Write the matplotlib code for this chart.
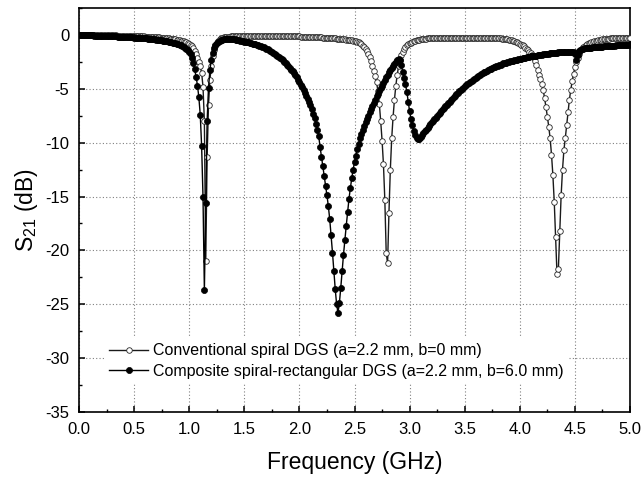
import numpy as np
import matplotlib as mpl
mpl.use("Agg")
import matplotlib.pyplot as plt
from matplotlib.ticker import MultipleLocator, FormatStrFormatter


mpl.rcParams.update({
    "font.family": ["Liberation Sans", "DejaVu Sans"],
    "font.size": 11.5,
    "axes.linewidth": 1.2,
    "xtick.direction": "in",
    "ytick.direction": "in",
    "xtick.major.size": 4.0,
    "ytick.major.size": 4.0,
    "xtick.minor.size": 2.3,
    "ytick.minor.size": 2.3,
    "xtick.major.width": 1.1,
    "ytick.major.width": 1.1,
    "xtick.minor.width": 1.0,
    "ytick.minor.width": 1.0,
})

# frequency sweep, 0-5 GHz, 401 points
f_start, f_stop, n_pts = 0.0, 5.0, 401

# S21 (dB), conventional spiral DGS, one row per 0.1 GHz
s21_conv = [
    0.00, 0.00, 0.00, 0.00, -0.01, -0.01, -0.01, -0.01,
    -0.01, -0.01, -0.02, -0.02, -0.02, -0.02, -0.02, -0.03,
    -0.03, -0.03, -0.03, -0.03, -0.04, -0.04, -0.04, -0.04,
    -0.05, -0.05, -0.05, -0.05, -0.06, -0.06, -0.06, -0.07,
    -0.07, -0.07, -0.08, -0.08, -0.08, -0.09, -0.09, -0.10,
    -0.10, -0.11, -0.11, -0.12, -0.12, -0.13, -0.13, -0.14,
    -0.15, -0.15, -0.16, -0.17, -0.18, -0.18, -0.19, -0.20,
    -0.21, -0.22, -0.23, -0.24, -0.25, -0.26, -0.28, -0.29,
    -0.30, -0.32, -0.34, -0.35, -0.37, -0.39, -0.41, -0.44,
    -0.46, -0.49, -0.52, -0.55, -0.59, -0.63, -0.68, -0.73,
    -0.80, -0.90, -1.05, -1.25, -1.50, -1.80, -2.15, -2.50,
    -2.90, -3.50, -4.80, -8.00, -21.0, -11.3, -6.50, -4.20,
    -2.90, -2.00, -1.40, -1.00, -0.72, -0.52, -0.40, -0.32,
    -0.27, -0.23, -0.20, -0.18, -0.16, -0.15, -0.14, -0.13,
    -0.12, -0.12, -0.11, -0.11, -0.11, -0.10, -0.10, -0.10,
    -0.10, -0.10, -0.10, -0.10, -0.10, -0.10, -0.10, -0.10,
    -0.10, -0.10, -0.10, -0.10, -0.10, -0.10, -0.10, -0.10,
    -0.10, -0.10, -0.10, -0.10, -0.10, -0.10, -0.10, -0.10,
    -0.10, -0.10, -0.10, -0.10, -0.11, -0.11, -0.11, -0.11,
    -0.12, -0.12, -0.12, -0.13, -0.13, -0.13, -0.14, -0.14,
    -0.14, -0.15, -0.15, -0.16, -0.16, -0.17, -0.17, -0.18,
    -0.18, -0.19, -0.19, -0.20, -0.21, -0.21, -0.22, -0.23,
    -0.23, -0.24, -0.25, -0.26, -0.27, -0.28, -0.29, -0.30,
    -0.31, -0.32, -0.33, -0.34, -0.35, -0.36, -0.38, -0.39,
    -0.40, -0.42, -0.43, -0.45, -0.47, -0.49, -0.51, -0.53,
    -0.56, -0.60, -0.64, -0.70, -0.77, -0.87, -1.00, -1.15,
    -1.32, -1.52, -1.75, -2.05, -2.45, -2.90, -3.35, -3.80,
    -4.40, -5.20, -6.40, -8.00, -9.80, -12.0, -15.3, -20.2,
    -21.2, -16.5, -12.5, -9.60, -7.60, -6.00, -4.70, -3.70,
    -2.90, -2.30, -1.85, -1.55, -1.30, -1.12, -0.98, -0.87,
    -0.78, -0.71, -0.65, -0.60, -0.55, -0.51, -0.48, -0.45,
    -0.42, -0.40, -0.38, -0.36, -0.34, -0.33, -0.32, -0.31,
    -0.30, -0.29, -0.28, -0.27, -0.27, -0.26, -0.26, -0.25,
    -0.25, -0.25, -0.25, -0.25, -0.24, -0.24, -0.24, -0.24,
    -0.24, -0.24, -0.24, -0.24, -0.24, -0.24, -0.24, -0.24,
    -0.24, -0.24, -0.24, -0.24, -0.24, -0.24, -0.25, -0.25,
    -0.25, -0.25, -0.25, -0.25, -0.26, -0.26, -0.26, -0.26,
    -0.27, -0.27, -0.27, -0.28, -0.28, -0.29, -0.29, -0.30,
    -0.31, -0.32, -0.33, -0.34, -0.36, -0.38, -0.40, -0.42,
    -0.45, -0.48, -0.51, -0.55, -0.59, -0.64, -0.70, -0.76,
    -0.82, -0.90, -0.98, -1.07, -1.17, -1.28, -1.40, -1.55,
    -1.70, -1.90, -2.15, -2.45, -2.80, -3.25, -3.70, -4.10,
    -4.60, -5.10, -5.90, -6.70, -7.60, -8.50, -9.60, -11.1,
    -13.0, -15.5, -18.8, -22.2, -21.7, -18.2, -14.9, -12.5,
    -10.7, -9.60, -8.40, -7.20, -6.00, -5.10, -4.30, -3.60,
    -3.00, -2.50, -2.10, -1.75, -1.50, -1.30, -1.15, -1.02,
    -0.92, -0.84, -0.77, -0.71, -0.66, -0.62, -0.58, -0.55,
    -0.52, -0.49, -0.46, -0.44, -0.42, -0.40, -0.38, -0.36,
    -0.35, -0.34, -0.33, -0.32, -0.31, -0.30, -0.29, -0.28,
    -0.28, -0.27, -0.27, -0.26, -0.26, -0.25, -0.25, -0.24,
    -0.24,
]

# S21 (dB), composite spiral-rectangular DGS
s21_comp = [
    0.00, -0.01, -0.01, -0.02, -0.02, -0.03, -0.03, -0.04,
    -0.04, -0.05, -0.05, -0.06, -0.06, -0.07, -0.07, -0.08,
    -0.08, -0.09, -0.09, -0.10, -0.10, -0.11, -0.11, -0.12,
    -0.12, -0.13, -0.13, -0.14, -0.15, -0.15, -0.16, -0.17,
    -0.17, -0.18, -0.19, -0.20, -0.20, -0.21, -0.22, -0.23,
    -0.24, -0.25, -0.26, -0.27, -0.28, -0.29, -0.30, -0.31,
    -0.32, -0.33, -0.35, -0.36, -0.37, -0.39, -0.40, -0.42,
    -0.43, -0.45, -0.47, -0.49, -0.51, -0.53, -0.55, -0.57,
    -0.60, -0.62, -0.65, -0.68, -0.71, -0.74, -0.78, -0.82,
    -0.86, -0.91, -0.97, -1.04, -1.12, -1.21, -1.31, -1.42,
    -1.60, -1.80, -2.10, -2.60, -3.20, -3.90, -4.70, -5.80,
    -7.40, -10.3, -15.0, -23.7, -15.6, -8.00, -4.90, -3.30,
    -2.30, -1.65, -1.20, -0.92, -0.75, -0.62, -0.54, -0.48,
    -0.44, -0.41, -0.39, -0.38, -0.37, -0.37, -0.37, -0.38,
    -0.39, -0.41, -0.43, -0.46, -0.49, -0.52, -0.55, -0.58,
    -0.61, -0.64, -0.67, -0.70, -0.73, -0.76, -0.80, -0.84,
    -0.88, -0.92, -0.96, -1.01, -1.06, -1.11, -1.16, -1.22,
    -1.28, -1.34, -1.41, -1.48, -1.56, -1.64, -1.73, -1.82,
    -1.92, -2.02, -2.13, -2.24, -2.36, -2.49, -2.62, -2.76,
    -2.90, -3.05, -3.21, -3.38, -3.56, -3.75, -3.95, -4.16,
    -4.38, -4.61, -4.85, -5.10, -5.36, -5.63, -5.91, -6.20,
    -6.55, -6.90, -7.30, -7.75, -8.25, -8.80, -9.40, -10.4,
    -11.3, -12.2, -13.1, -14.0, -14.9, -15.9, -17.1, -18.6,
    -20.2, -21.9, -23.6, -25.0, -25.8, -24.9, -23.5, -21.9,
    -20.4, -19.0, -17.7, -16.4, -15.2, -14.2, -13.3, -12.5,
    -11.8, -11.2, -10.6, -10.1, -9.60, -9.20, -8.80, -8.45,
    -8.10, -7.80, -7.50, -7.20, -6.90, -6.60, -6.30, -6.00,
    -5.70, -5.45, -5.20, -4.95, -4.70, -4.45, -4.20, -3.95,
    -3.70, -3.48, -3.26, -3.05, -2.85, -2.66, -2.48, -2.33,
    -2.22, -2.35, -2.80, -3.40, -4.00, -4.60, -5.30, -6.20,
    -7.10, -7.80, -8.40, -8.90, -9.30, -9.55, -9.70, -9.65,
    -9.50, -9.32, -9.14, -8.96, -8.78, -8.60, -8.43, -8.27,
    -8.12, -7.97, -7.82, -7.67, -7.52, -7.37, -7.22, -7.07,
    -6.92, -6.77, -6.62, -6.47, -6.33, -6.19, -6.05, -5.91,
    -5.77, -5.64, -5.51, -5.38, -5.25, -5.13, -5.01, -4.89,
    -4.78, -4.67, -4.56, -4.46, -4.36, -4.26, -4.16, -4.07,
    -3.98, -3.89, -3.80, -3.72, -3.64, -3.56, -3.48, -3.41,
    -3.34, -3.27, -3.20, -3.14, -3.08, -3.02, -2.96, -2.90,
    -2.85, -2.80, -2.75, -2.70, -2.65, -2.61, -2.57, -2.53,
    -2.49, -2.45, -2.41, -2.38, -2.35, -2.32, -2.29, -2.26,
    -2.23, -2.20, -2.17, -2.14, -2.11, -2.08, -2.05, -2.02,
    -2.00, -1.97, -1.95, -1.93, -1.91, -1.89, -1.87, -1.85,
    -1.83, -1.81, -1.79, -1.77, -1.75, -1.73, -1.72, -1.70,
    -1.68, -1.67, -1.65, -1.64, -1.63, -1.61, -1.60, -1.59,
    -1.58, -1.57, -1.56, -1.55, -1.54, -1.54, -1.55, -1.60,
    -1.80, -2.30, -1.85, -1.50, -1.38, -1.32, -1.28, -1.25,
    -1.23, -1.21, -1.19, -1.18, -1.17, -1.16, -1.15, -1.14,
    -1.12, -1.11, -1.10, -1.09, -1.08, -1.07, -1.06, -1.05,
    -1.04, -1.03, -1.02, -1.01, -1.00, -0.99, -0.98, -0.97,
    -0.96, -0.95, -0.94, -0.93, -0.92, -0.91, -0.90, -0.89,
    -0.88,
]

labels = ["Conventional spiral DGS (a=2.2 mm, b=0 mm)",
          "Composite spiral-rectangular DGS (a=2.2 mm, b=6.0 mm)"]

freq = np.linspace(f_start, f_stop, n_pts)
assert len(s21_conv) == n_pts and len(s21_comp) == n_pts

fig = plt.figure(figsize=(6.43, 4.79), dpi=100)
ax = fig.add_axes([0.1229, 0.1399, 0.8569, 0.8434])

ax.plot(freq, s21_conv, color="0.1", lw=1.0, marker="o", markersize=4.0,
        markerfacecolor="white", markeredgecolor="0.15",
        markeredgewidth=0.6, label=labels[0], zorder=3)
ax.plot(freq, s21_comp, color="k", lw=1.0, marker="o", markersize=4.4,
        markerfacecolor="k", markeredgecolor="k",
        markeredgewidth=0.5, label=labels[1], zorder=4)

ax.set_xlim(0, 5)
ax.set_ylim(-35, 2.5)
ax.xaxis.set_major_locator(MultipleLocator(0.5))
ax.xaxis.set_minor_locator(MultipleLocator(0.25))
ax.yaxis.set_major_locator(MultipleLocator(5))
ax.yaxis.set_minor_locator(MultipleLocator(2.5))
ax.xaxis.set_major_formatter(FormatStrFormatter("%.1f"))
ax.yaxis.set_major_formatter(FormatStrFormatter("%d"))
ax.tick_params(which="both", top=False, right=False)
ax.tick_params(which="major", pad=7, labelsize=12)
ax.grid(True, which="major", color="0.5", lw=0.8, linestyle=(0, (1, 2)))
ax.set_axisbelow(True)

ax.set_xlabel("Frequency (GHz)", fontsize=16.5, labelpad=10)
ax.set_ylabel("S$_\\mathregular{21}$ (dB)", fontsize=16.5, labelpad=4)

leg = ax.legend(loc="upper left", bbox_to_anchor=(0.032, 0.202),
                frameon=True, facecolor="white", edgecolor="none",
                framealpha=1.0, fancybox=False, numpoints=1,
                handlelength=2.4, handletextpad=0.3, labelspacing=0.35,
                borderpad=0.3, fontsize=11.5)
leg.set_zorder(5)

fig.savefig("out.png", dpi=100)
